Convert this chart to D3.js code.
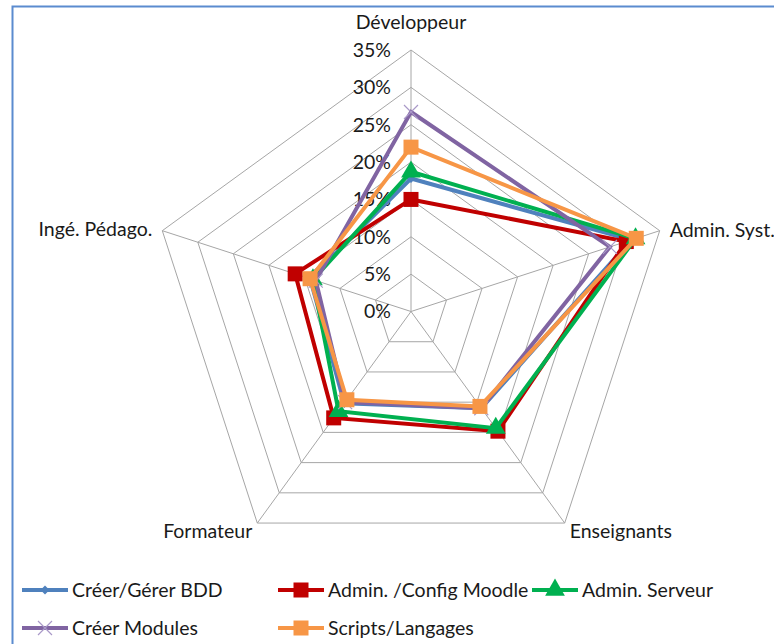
<!DOCTYPE html>
<meta charset="utf-8">
<html>
  <head>
	<script src="https://cdnjs.cloudflare.com/ajax/libs/d3/7.8.5/d3.min.js"></script>
	<style>
		body { margin: 0; background: #fff; }
		text { font-family: Lato, "Noto Sans", sans-serif; fill: #1a1a1a; }
	</style>
  </head>

<body>
	<div id='radar'></div>
</body>
<script>

// axes of the radar, clockwise from the top
var axes = ["Développeur", "Admin. Syst.", "Enseignants", "Formateur", "Ingé. Pédago."];

// ring values (percent)
var ticks = [0, 5, 10, 15, 20, 25, 30, 35];

// series names, in drawing order
var seriesNames = ["Créer/Gérer BDD", "Admin. /Config Moodle", "Admin. Serveur", "Créer Modules", "Scripts/Langages"];

// values per series, same order as axes
var creerBDD      = [17.8, 31.0, 16.0, 15.2, 14.2];
var adminMoodle   = [15.0, 30.3, 19.8, 17.6, 16.3];
var adminServeur  = [18.7, 31.6, 19.3, 16.5, 13.8];
var creerModules  = [26.7, 28.0, 16.0, 15.0, 13.4];
var scripts       = [22.0, 31.7, 15.7, 14.6, 14.2];

var seriesValues = [creerBDD, adminMoodle, adminServeur, creerModules, scripts];
var colors = ["#4F81BD", "#C00000", "#00B050", "#8064A2", "#F79646"];
var markers = ["diamond", "square", "triangle", "cross", "square"];

var drawChart = function(){

	var width = 774, height = 644;
	var cx = 411, cy = 311.5, R = 261.5;
	var fontSize = "19.5px";

	var svg = d3.select('#radar')
		.append('svg')
		.attr("width", width)
		.attr("height", height);

	// frame (only left and top edges are visible)
	svg.append("path")
		.attr("d", "M12.5," + (height + 5) + " L12.5,6.5 L" + (width + 5) + ",6.5")
		.attr("fill", "none")
		.attr("stroke", "#5B8BCF")
		.attr("stroke-width", 2);

	var r = d3.scaleLinear().domain([0, 35]).range([0, R]);
	var angle = d3.scaleLinear().domain([0, axes.length]).range([0, 2 * Math.PI]);

	function pt(i, v) {
		var a = angle(i);
		return [cx + r(v) * Math.sin(a), cy - r(v) * Math.cos(a)];
	}

	var g = svg.append("g");

	// rings
	g.selectAll(".ring")
		.data(ticks.slice(1))
		.enter().append("polygon")
		.attr("class", "ring")
		.attr("points", function(t){ return axes.map(function(a, i){ return pt(i, t).join(","); }).join(" "); })
		.attr("fill", "none")
		.attr("stroke", "#A6A6A6")
		.attr("stroke-width", 1);

	// spokes
	g.selectAll(".spoke")
		.data(axes)
		.enter().append("line")
		.attr("class", "spoke")
		.attr("x1", cx).attr("y1", cy)
		.attr("x2", function(d, i){ return pt(i, 35)[0]; })
		.attr("y2", function(d, i){ return pt(i, 35)[1]; })
		.attr("stroke", "#A6A6A6")
		.attr("stroke-width", 1);

	// tick labels
	g.selectAll(".tick")
		.data(ticks)
		.enter().append("text")
		.attr("class", "tick")
		.attr("x", cx - 20)
		.attr("y", function(t){ return cy - r(t); })
		.attr("dy", "0.35em")
		.attr("text-anchor", "end")
		.style("font-size", fontSize)
		.text(function(t){ return t + "%"; });

	// axis labels
	var labelPos = [
		{dx: 0, dy: -28, anchor: "middle"},
		{dx: 10, dy: -1, anchor: "start"},
		{dx: 5, dy: 8, anchor: "start"},
		{dx: -5, dy: 8, anchor: "end"},
		{dx: -10, dy: -2, anchor: "end"}
	];
	g.selectAll(".axisLabel")
		.data(axes)
		.enter().append("text")
		.attr("class", "axisLabel")
		.attr("x", function(d, i){ return pt(i, 35)[0] + labelPos[i].dx; })
		.attr("y", function(d, i){ return pt(i, 35)[1] + labelPos[i].dy; })
		.attr("dy", "0.35em")
		.attr("text-anchor", function(d, i){ return labelPos[i].anchor; })
		.style("font-size", fontSize)
		.text(function(d){ return d; });

	var line = d3.line().curve(d3.curveLinearClosed);

	function drawMarker(sel, type, color, size) {
		if (type === "square") {
			sel.append("rect")
				.attr("x", -size / 2).attr("y", -size / 2)
				.attr("width", size).attr("height", size)
				.attr("fill", color);
		} else if (type === "triangle") {
			sel.append("path")
				.attr("d", d3.symbol().type(d3.symbolTriangle).size(size * size * 0.75)())
				.attr("fill", color);
		} else if (type === "diamond") {
			sel.append("path")
				.attr("d", "M0," + (-size / 2) + " L" + (size / 2) + ",0 L0," + (size / 2) + " L" + (-size / 2) + ",0Z")
				.attr("fill", color);
		} else if (type === "cross") {
			var h = size / 2;
			sel.append("path")
				.attr("d", "M" + (-h) + "," + (-h) + " L" + h + "," + h + " M" + (-h) + "," + h + " L" + h + "," + (-h))
				.attr("stroke", "#A999C8")
				.attr("stroke-width", 1.2)
				.attr("fill", "none");
		}
	}

	var markerSize = [9, 15, 15, 14, 15];

	// series
	seriesValues.forEach(function(vals, s){
		var pts = vals.map(function(v, i){ return pt(i, v); });
		var sg = g.append("g");
		sg.append("path")
			.attr("d", line(pts))
			.attr("fill", "none")
			.attr("stroke", colors[s])
			.attr("stroke-width", 4)
			.attr("stroke-linejoin", "miter");
		pts.forEach(function(p){
			var m = sg.append("g").attr("transform", "translate(" + p[0] + "," + p[1] + ")");
			drawMarker(m, markers[s], colors[s], markerSize[s]);
		});
	});

	// legend
	var legendPos = [[22, 590], [278, 590], [532, 590], [22, 628], [278, 628]];
	var legend = svg.selectAll(".legend")
		.data(seriesNames)
		.enter().append("g")
		.attr("class", "legend")
		.attr("transform", function(d, i){ return "translate(" + legendPos[i][0] + "," + legendPos[i][1] + ")"; });

	legend.append("line")
		.attr("x1", 0).attr("x2", 46)
		.attr("y1", 0).attr("y2", 0)
		.attr("stroke", function(d, i){ return colors[i]; })
		.attr("stroke-width", 4);

	legend.each(function(d, i){
		var m = d3.select(this).append("g").attr("transform", "translate(23,0)");
		drawMarker(m, markers[i], colors[i], markerSize[i]);
	});

	legend.append("text")
		.attr("x", 50)
		.attr("y", 0)
		.attr("dy", "0.35em")
		.style("font-size", fontSize)
		.text(function(d){ return d; });
}

drawChart();

</script>
</html>
